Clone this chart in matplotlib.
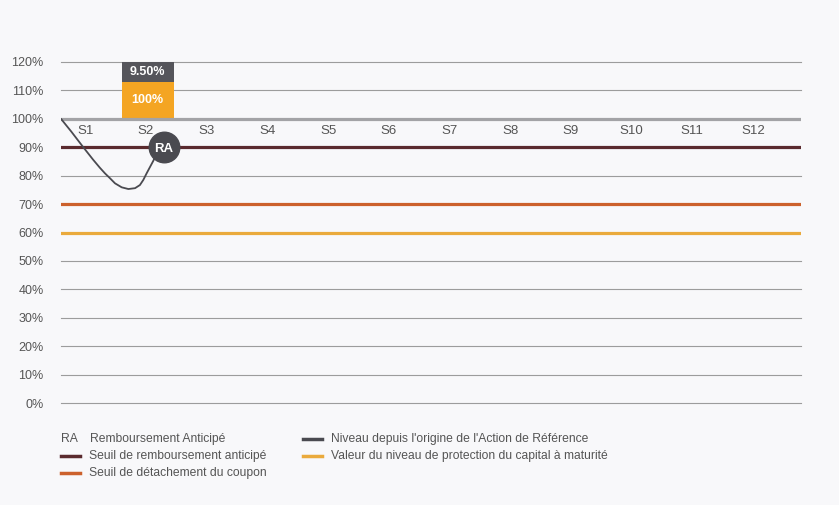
import matplotlib
matplotlib.use("Agg")
import matplotlib.pyplot as plt
from matplotlib.lines import Line2D

# ---- data ----
periods = ["S1", "S2", "S3", "S4", "S5", "S6", "S7", "S8", "S9", "S10", "S11", "S12"]
yticks = [0, 10, 20, 30, 40, 50, 60, 70, 80, 90, 100, 110, 120]
level_initial = 100
level_autocall = 90
level_coupon = 70
level_protection = 60
# underlying path (x in period units, value in %)
path_x = [0.0, 0.17, 0.36, 0.53, 0.64, 0.725, 0.807, 0.89, 1.0, 1.11, 1.22, 1.30,
          1.356, 1.41, 1.47, 1.52, 1.56, 1.61, 1.69]
path_y = [100, 95.5, 90.2, 85.6, 82.8, 80.8, 79.1, 77.3, 75.9, 75.3, 75.6, 76.7,
          78.5, 80.8, 83.2, 85.2, 87.0, 88.5, 89.5]
ra_x, ra_y = 1.69, 90
bar_period = 1          # index of S2
bar_capital = 100       # label of lower block
bar_coupon = "9.50%"    # label of upper block
bar_low, bar_mid, bar_top = 100, 113, 120

BG = "#f8f8fa"
C_GRID = "#9c9c9c"
C_100 = "#a3a3a6"
C_90 = "#5a2a2e"
C_70 = "#cc612c"
C_60 = "#eaaa3c"
C_PATH = "#4a4a50"
C_BAR_O = "#f4a523"
C_BAR_G = "#55555b"
C_TXT = "#555555"

plt.rcParams["font.family"] = ["Liberation Sans", "DejaVu Sans"]

W, H = 839, 505
fig = plt.figure(figsize=(W / 100, H / 100), dpi=100, facecolor=BG)
x0, x1, ytop, ybot = 61, 801, 62, 403
ax = fig.add_axes([x0 / W, 1 - ybot / H, (x1 - x0) / W, (ybot - ytop) / H])
ax.set_facecolor(BG)
xmax = (x1 - x0) / 60.7
ax.set_xlim(0, xmax)
ax.set_ylim(0, 120)
for s in ax.spines.values():
    s.set_visible(False)
ax.set_xticks([])
ax.set_yticks(yticks)
ax.set_yticklabels([f"{v}%" for v in yticks], fontsize=9, color=C_TXT)
ax.tick_params(axis="y", length=0, pad=12.5)

for v in yticks:
    if v in (level_initial, level_autocall, level_coupon, level_protection):
        continue
    ax.axhline(v, color=C_GRID, lw=0.8, zorder=1, clip_on=False)

ax.axhline(level_coupon, color=C_70, lw=2.3, zorder=2)
ax.axhline(level_protection, color=C_60, lw=2.3, zorder=2)
ax.axhline(level_autocall, color=C_90, lw=2.3, zorder=2)

# bar
bx = bar_period + 0.43
bw = 0.86
ax.bar(bx, bar_mid - bar_low, bottom=bar_low, width=bw, color=C_BAR_O, zorder=3, clip_on=False)
ax.bar(bx, bar_top - bar_mid, bottom=bar_mid, width=bw, color=C_BAR_G, zorder=3, clip_on=False)
ax.text(bx, (bar_low + bar_mid) / 2, f"{bar_capital}%", ha="center", va="center",
        color="white", fontsize=9, fontweight="bold", zorder=4)
ax.text(bx, (bar_mid + bar_top) / 2, bar_coupon, ha="center", va="center",
        color="white", fontsize=9, fontweight="bold", zorder=4)

ax.axhline(level_initial, color=C_100, lw=2.3, zorder=3)

# period labels
for i, p in enumerate(periods):
    ax.text(i + 0.4, 95.7, p, ha="center", va="center", fontsize=9.5, color=C_TXT, zorder=4)

# path
ax.plot(path_x, path_y, color=C_PATH, lw=1.3, zorder=5, solid_capstyle="round",
        solid_joinstyle="round")

# RA marker
ax.plot([ra_x], [ra_y], marker="o", markersize=22, color=C_PATH, zorder=6, clip_on=False)
ax.text(ra_x, ra_y - 0.5, "RA", ha="center", va="center", color="white",
        fontsize=9.5, fontweight="bold", zorder=7)

# legend
def fy(py):
    return 1 - py / H

def fx(px):
    return px / W

lfs = 8.7
fig.text(fx(61), fy(439), "RA", fontsize=lfs, color=C_TXT, va="center")
fig.text(fx(90), fy(439), "Remboursement Anticipé", fontsize=lfs, color=C_TXT, va="center")
legend_items = [
    (61, 456, C_90, "Seuil de remboursement anticipé"),
    (61, 473, C_70, "Seuil de détachement du coupon"),
    (303, 439, C_PATH, "Niveau depuis l'origine de l'Action de Référence"),
    (303, 456, C_60, "Valeur du niveau de protection du capital à maturité"),
]
for px, py, c, lab in legend_items:
    fig.add_artist(Line2D([fx(px), fx(px + 19)], [fy(py), fy(py)], color=c, lw=2.5,
                          transform=fig.transFigure))
    fig.text(fx(px + 28), fy(py), lab, fontsize=lfs, color=C_TXT, va="center")

fig.savefig("out.png", dpi=100, facecolor=BG)
